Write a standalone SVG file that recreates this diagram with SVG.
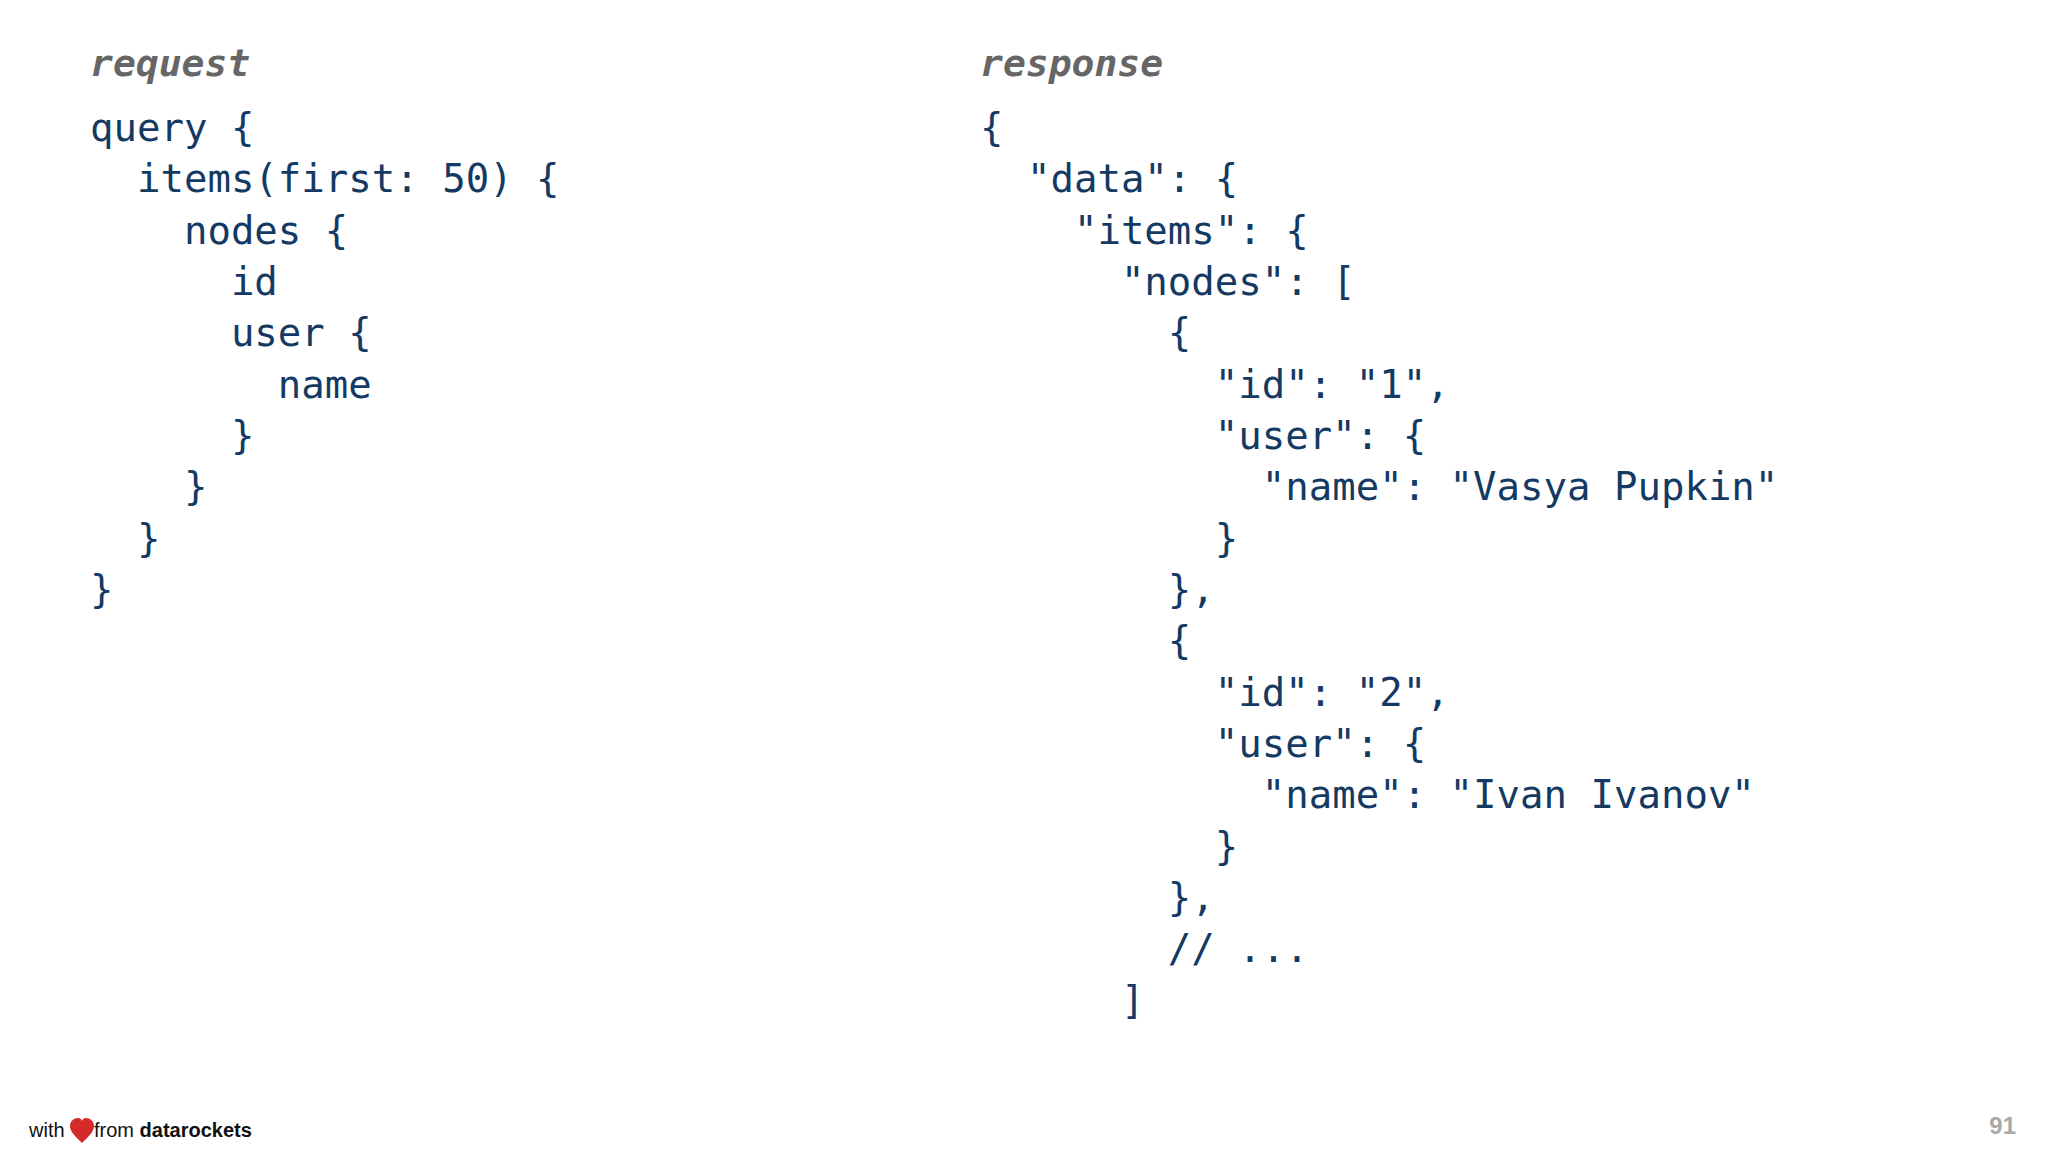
<svg xmlns="http://www.w3.org/2000/svg" width="2048" height="1152" viewBox="0 0 2048 1152">
<style>
.lbl{font-family:"DejaVu Sans Mono",monospace;font-size:38px;font-weight:bold;font-style:italic;fill:#666}
.code{font-family:"DejaVu Sans Mono",monospace;font-size:39px;fill:#143a63;white-space:pre}
.foot{font-family:"Liberation Sans",Arial,sans-serif;font-size:20px;fill:#111}
</style>
<rect width="2048" height="1152" fill="#fff"/>
<g id="request">
<text class="lbl" x="90" y="76">request</text>
<text class="code" xml:space="preserve"><tspan x="90" y="141">query {</tspan><tspan x="90" y="192">  items(first: 50) {</tspan><tspan x="90" y="244">    nodes {</tspan><tspan x="90" y="295">      id</tspan><tspan x="90" y="346">      user {</tspan><tspan x="90" y="398">        name</tspan><tspan x="90" y="449">      }</tspan><tspan x="90" y="500">    }</tspan><tspan x="90" y="552">  }</tspan><tspan x="90" y="603">}</tspan></text>
</g>
<g id="response">
<text class="lbl" x="980" y="76">response</text>
<text class="code" xml:space="preserve"><tspan x="980" y="141">{</tspan><tspan x="980" y="192">  "data": {</tspan><tspan x="980" y="244">    "items": {</tspan><tspan x="980" y="295">      "nodes": [</tspan><tspan x="980" y="346">        {</tspan><tspan x="980" y="398">          "id": "1",</tspan><tspan x="980" y="449">          "user": {</tspan><tspan x="980" y="500">            "name": "Vasya Pupkin"</tspan><tspan x="980" y="552">          }</tspan><tspan x="980" y="603">        },</tspan><tspan x="980" y="654">        {</tspan><tspan x="980" y="706">          "id": "2",</tspan><tspan x="980" y="757">          "user": {</tspan><tspan x="980" y="808">            "name": "Ivan Ivanov"</tspan><tspan x="980" y="860">          }</tspan><tspan x="980" y="911">        },</tspan><tspan x="980" y="962">        // ...</tspan><tspan x="980" y="1014">      ]</tspan></text>
</g>
<g id="footer">
<text class="foot" x="29" y="1137">with</text>
<path d="M82 1143 C76 1137 70 1132 70 1126 C70 1121 74 1118 78 1118 C80 1118 81.5 1119 82 1121 C82.5 1119 84 1118 86 1118 C90 1118 94 1121 94 1126 C94 1132 88 1137 82 1143 Z" fill="#d42a2a"/>
<text class="foot" x="94" y="1137">from <tspan font-weight="bold">datarockets</tspan></text>
<text x="2016" y="1134" text-anchor="end" font-family="'Liberation Sans',Arial,sans-serif" font-size="24" font-weight="bold" fill="#aaa">91</text>
</g>
</svg>
